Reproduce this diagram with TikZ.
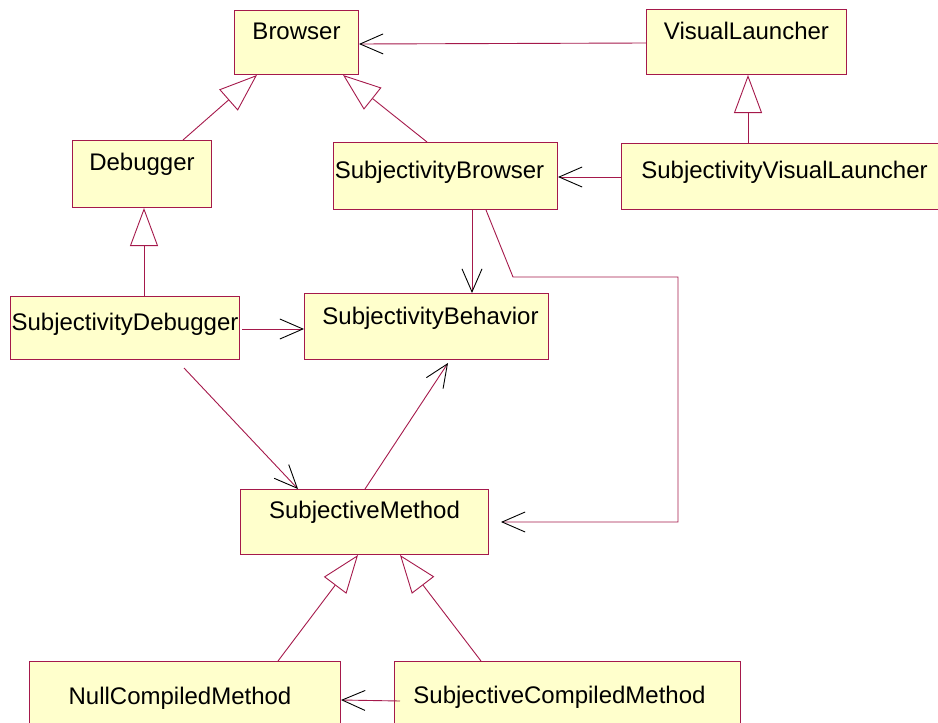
\documentclass[tikz,border=0pt]{standalone}
\usepackage{fontspec}
\setmainfont{Liberation Sans}
\usetikzlibrary{arrows.meta,calc}
\definecolor{umlline}{RGB}{165,25,75}
\definecolor{umlfill}{RGB}{255,255,204}
\tikzset{
  cls/.style={draw=umlline, fill=umlfill, line width=1pt, anchor=north west,
    inner xsep=0pt, inner ysep=12pt, text height=17pt,
    font=\fontsize{24}{28}\selectfont},
  assoc/.style={draw=umlline, line width=0.9pt,
    -{Straight Barb[color=black, length=23pt, width=20pt, line width=0.9pt]}},
  inherit/.style={draw=umlline, line width=0.9pt,
    -{Triangle[open, fill=white, length=38pt, width=28pt, line width=0.9pt]}}
}
\begin{document}
\begin{tikzpicture}[x=1pt,y=-1pt]
\useasboundingbox (0,0) rectangle (938,723);

% classes
\node[cls, minimum width=124pt, text depth=23pt] (br)   at (234,10)  {Browser};
\node[cls, minimum width=200pt, text height=18pt, text depth=23pt] (vl) at (646,9) {VisualLauncher};
\node[cls, minimum width=139pt, text height=18pt, text depth=25pt] (dbg)  at (72,140)  {Debugger};
\node[cls, minimum width=224pt, text height=24pt, text depth=19pt] (sb)   at (333,142) {\hspace*{-12pt}SubjectivityBrowser};
\node[cls, minimum width=326pt, text height=23pt, text depth=19pt] (svl)  at (621,143) {SubjectivityVisualLauncher};
\node[cls, minimum width=229pt, text height=22pt, text depth=17pt] (sdbg) at (10,296)  {SubjectivityDebugger};
\node[cls, minimum width=244pt, text height=19pt, text depth=23pt] (sbeh) at (304,293) {\hspace*{8pt}SubjectivityBehavior};
\node[cls, minimum width=248pt, text depth=24pt] (sm)   at (240,489) {SubjectiveMethod};
\node[cls, minimum width=311pt, text height=31pt, text depth=19pt] (ncm) at (29,661)  {\hspace*{-10pt}NullCompiledMethod};
\node[cls, minimum width=346pt, text height=30pt, text depth=20pt] (scm) at (394,661) {\hspace*{-16pt}SubjectiveCompiledMethod};

% generalizations
\draw[inherit] ($(dbg.north west)+(111,0)$) -- ($(br.south west)+(23,0)$);
\draw[inherit] ($(sb.north west)+(94,0)$)   -- ($(br.south west)+(109,0)$);
\draw[inherit] ($(svl.north west)+(127,0)$) -- ($(vl.south west)+(102,0)$);
\draw[inherit] ($(sdbg.north west)+(134,0)$) -- ($(dbg.south west)+(72,0)$);
\draw[inherit] ($(ncm.north west)+(249,0)$) -- ($(sm.south west)+(118,0)$);
\draw[inherit] ($(scm.north west)+(87,0)$)  -- ($(sm.south west)+(160,0)$);

% associations
\draw[assoc] ($(vl.north west)+(0,34)$)   -- ($(br.north east)+(0,34)$);
\draw[assoc] ($(svl.north west)+(0,34)$)  -- ($(sb.north east)+(0,35)$);
\draw[assoc] ($(sdbg.north east)+(2,33)$) -- ($(sbeh.north west)+(0,36)$);
\draw[assoc] ($(sb.south west)+(139,0)$)  -- ($(sbeh.north west)+(168,0)$);
\draw[assoc, shorten >=12pt] ($(sb.south west)+(153,0)$) -- (513,277) -- (678,277)
  -- (678,522) -- ($(sm.north east)+(0,33)$);
\draw[assoc] ($(sdbg.south west)+(174,8)$) -- ($(sm.north west)+(58,0)$);
\draw[assoc] ($(sm.north west)+(125,0)$)   -- ($(sbeh.south west)+(144,3)$);
\draw[assoc] ($(scm.north west)+(6,40)$)   -- ($(ncm.north east)+(0,39)$);
\end{tikzpicture}
\end{document}
